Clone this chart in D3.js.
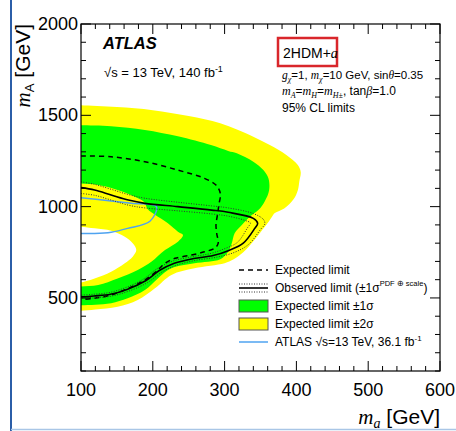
<!DOCTYPE html>
<html>
<head>
<meta charset="utf-8">
<script src="https://cdn.jsdelivr.net/npm/d3@7"></script>
<style>
  body { margin: 0; background: #fff; }
  text { font-family: "Liberation Sans", Arial, sans-serif; }
  .it { font-family: "Liberation Serif", "Times New Roman", serif; font-style: italic; }
</style>
</head>
<body>
<script>
// exclusion contours in (m_a, m_A) GeV
var yellowOuter = [[90,1556],[100,1555],[150,1545],[200,1528],[250,1496],[294,1456],[340,1383],[363,1337],[386,1283],[402,1228],[406,1190],[404,1136],[402,1090],[396,1040],[383,990],[370,965],[366,945],[360,910],[350,860],[340,810],[326,750],[312,710],[300,690],[258,662],[226,626],[203,553],[179,489],[151,452],[120,437],[100,430],[90,428]];
var greenOuter = [[90,1445],[100,1445],[142,1440],[189,1420],[235,1385],[281,1337],[305,1305],[317,1292],[340,1246],[354,1200],[361,1155],[362,1090],[356,1030],[347,981],[335,945],[324,899],[314,854],[310,799],[305,753],[294,712],[258,690],[226,662],[207,607],[189,543],[165,498],[142,471],[120,463],[100,460],[90,459]];
var yellowInner = [[90,1127],[100,1126],[124,1118],[151,1091],[175,1054],[188,1025],[193,985],[203,955],[221,909],[235,863],[242,845],[235,808],[217,762],[198,698],[179,653],[151,607],[124,571],[100,563],[90,562]];
var whiteHole = [[90,892],[100,890],[119,881],[142,868],[161,835],[172,799],[177,762],[172,726],[161,690],[142,644],[119,607],[100,585],[90,582]];

var expected = [[100,1277],[142,1273],[189,1246],[235,1200],[272,1155],[288,1118],[294,1073],[292,1009],[290,954],[288,900],[289,854],[291,799],[286,772],[272,753],[254,735],[231,717],[217,690],[207,653],[189,598],[166,553],[142,516],[119,498],[100,492]];
var observed = [[100,1104],[119,1091],[142,1064],[166,1036],[189,1018],[235,1000],[282,981],[305,969],[340,936],[346,909],[342,881],[326,800],[306,760],[284,732],[257,716],[230,690],[209,650],[190,594],[165,548],[141,520],[118,511],[100,506]];
var observedUp = [[100,1136],[119,1122],[142,1095],[166,1066],[189,1046],[235,1024],[282,1004],[305,993],[340,962],[354,930],[356,905],[350,875],[334,795],[314,750],[290,724],[260,706],[232,678],[212,640],[193,585],[167,538],[142,510],[118,500],[100,497]];
var observedDown = [[100,1072],[119,1062],[142,1036],[166,1008],[189,993],[235,977],[282,960],[305,948],[328,925],[336,910],[332,885],[318,805],[299,768],[279,742],[255,726],[228,702],[206,660],[187,603],[163,558],[140,530],[117,520],[100,515]];
var atlas2017 = [[100,1048],[142,1031],[170,1018],[205,1000],[196,920],[165,881],[142,860],[119,853],[100,853]];

var xTicks = [100, 200, 300, 400, 500, 600];
var yTicks = [500, 1000, 1500, 2000];

var width = 456, height = 431;
var svg = d3.select('body').append('svg')
  .attr('width', width).attr('height', height);

// page border bits from the screenshot
svg.append('line').attr('x1', 11).attr('x2', 11).attr('y1', 0).attr('y2', height)
  .attr('stroke', '#2b5ea8').attr('stroke-width', 2);
svg.append('line').attr('x1', 11).attr('x2', width).attr('y1', 429.5).attr('y2', 429.5)
  .attr('stroke', '#a9c6e6').attr('stroke-width', 1.5);

var x = d3.scaleLinear().domain([100, 600]).range([81, 440]);
var y = d3.scaleLinear().domain([100, 2000]).range([371, 24]);

svg.append('clipPath').attr('id', 'plot')
  .append('rect').attr('x', 81).attr('y', 24).attr('width', 359).attr('height', 347);

var g = svg.append('g').attr('clip-path', 'url(#plot)');

var smooth = d3.line()
  .x(function(d) { return x(d[0]); })
  .y(function(d) { return y(d[1]); })
  .curve(d3.curveCatmullRom.alpha(0.5));

var fillShape = function(pts, col) {
  g.append('path').attr('d', smooth(pts) + 'Z').attr('fill', col).attr('stroke', 'none');
};
fillShape(yellowOuter, '#ffff00');
fillShape(greenOuter, '#00ff00');
fillShape(yellowInner, '#ffff00');
fillShape(whiteHole, '#ffffff');

var drawLine = function(pts, col, w, dash) {
  var p = g.append('path').attr('d', smooth(pts))
    .attr('fill', 'none').attr('stroke', col).attr('stroke-width', w);
  if (dash) p.attr('stroke-dasharray', dash);
  return p;
};
drawLine(atlas2017, '#4fa3f0', 1.5);
drawLine(expected, '#000', 1.5, '5,4');
drawLine(observedUp, '#333', 1, '1,1.5');
drawLine(observedDown, '#333', 1, '1,1.5');
drawLine(observed, '#000', 1.6);

// frame and ticks (inward on all sides)
svg.append('rect').attr('x', 81).attr('y', 24).attr('width', 359).attr('height', 347)
  .attr('fill', 'none').attr('stroke', '#000').attr('stroke-width', 1.2);

var ticks = svg.append('g').attr('stroke', '#000').attr('stroke-width', 1);
d3.range(100, 601, 20).forEach(function(v) {
  var len = v % 100 === 0 ? 10 : 5;
  ticks.append('line').attr('x1', x(v)).attr('x2', x(v)).attr('y1', 371).attr('y2', 371 - len);
  ticks.append('line').attr('x1', x(v)).attr('x2', x(v)).attr('y1', 24).attr('y2', 24 + len);
});
d3.range(100, 2001, 100).forEach(function(v) {
  var len = v % 500 === 0 ? 10 : 5;
  ticks.append('line').attr('x1', 81).attr('x2', 81 + len).attr('y1', y(v)).attr('y2', y(v));
  ticks.append('line').attr('x1', 440).attr('x2', 440 - len).attr('y1', y(v)).attr('y2', y(v));
});

svg.selectAll('.xl').data(xTicks).enter().append('text')
  .attr('x', function(d) { return x(d); }).attr('y', 396)
  .attr('text-anchor', 'middle').attr('font-size', 18).text(function(d) { return d; });
svg.selectAll('.yl').data(yTicks).enter().append('text')
  .attr('x', 78).attr('y', function(d) { return y(d) + 6; })
  .attr('text-anchor', 'end').attr('font-size', 18).text(function(d) { return d; });

// axis titles
var xt = svg.append('text').attr('x', 440).attr('y', 424).attr('text-anchor', 'end').attr('font-size', 21);
xt.append('tspan').attr('class', 'it').text('m');
xt.append('tspan').attr('class', 'it').attr('font-size', 14).attr('dy', 4).text('a');
xt.append('tspan').attr('dy', -4).text(' [GeV]');

var yt = svg.append('text').attr('transform', 'translate(30,24) rotate(-90)')
  .attr('text-anchor', 'end').attr('font-size', 21);
yt.append('tspan').attr('class', 'it').text('m');
yt.append('tspan').attr('font-size', 13).attr('dy', 4).text('A');
yt.append('tspan').attr('dy', -4).text(' [GeV]');

// ATLAS label
svg.append('text').attr('x', 103).attr('y', 49).attr('font-size', 16.5)
  .attr('font-weight', 'bold').attr('font-style', 'italic').text('ATLAS');
var en = svg.append('text').attr('x', 104).attr('y', 77).attr('font-size', 13);
en.append('tspan').text('\u221As = 13 TeV, 140 fb');
en.append('tspan').attr('font-size', 9).attr('dy', -5).text('-1');

// model box
svg.append('rect').attr('x', 278).attr('y', 38).attr('width', 59).attr('height', 28)
  .attr('fill', 'none').attr('stroke', '#d9262b').attr('stroke-width', 2.5);
var mt = svg.append('text').attr('x', 283).attr('y', 58).attr('font-size', 14);
mt.append('tspan').text('2HDM+');
mt.append('tspan').attr('class', 'it').text('a');

var l1 = svg.append('text').attr('x', 282).attr('y', 79).attr('font-size', 11.5);
l1.append('tspan').attr('class', 'it').text('g');
l1.append('tspan').attr('class', 'it').attr('font-size', 8).attr('dy', 3).text('\u03c7');
l1.append('tspan').attr('dy', -3).text('=1, ');
l1.append('tspan').attr('class', 'it').text('m');
l1.append('tspan').attr('class', 'it').attr('font-size', 8).attr('dy', 3).text('\u03c7');
l1.append('tspan').attr('dy', -3).text('=10 GeV, sin');
l1.append('tspan').attr('class', 'it').text('\u03b8');
l1.append('tspan').text('=0.35');

var l2 = svg.append('text').attr('x', 282).attr('y', 95).attr('font-size', 12);
l2.append('tspan').attr('class', 'it').text('m');
l2.append('tspan').attr('class', 'it').attr('font-size', 8).attr('dy', 3).text('A');
l2.append('tspan').attr('dy', -3).text('=');
l2.append('tspan').attr('class', 'it').text('m');
l2.append('tspan').attr('class', 'it').attr('font-size', 8).attr('dy', 3).text('H');
l2.append('tspan').attr('dy', -3).text('=');
l2.append('tspan').attr('class', 'it').text('m');
l2.append('tspan').attr('class', 'it').attr('font-size', 8).attr('dy', 3).text('H\u00b1');
l2.append('tspan').attr('dy', -3).text(', tan');
l2.append('tspan').attr('class', 'it').text('\u03b2');
l2.append('tspan').text('=1.0');

svg.append('text').attr('x', 282).attr('y', 112).attr('font-size', 12).text('95% CL limits');

// legend
var lg = svg.append('g');
var lx0 = 239, lx1 = 268, tx = 275;
lg.append('line').attr('x1', lx0).attr('x2', lx1).attr('y1', 270).attr('y2', 270)
  .attr('stroke', '#000').attr('stroke-width', 1.5).attr('stroke-dasharray', '5,4');
[284, 292].forEach(function(yy) {
  lg.append('line').attr('x1', lx0).attr('x2', lx1).attr('y1', yy).attr('y2', yy)
    .attr('stroke', '#333').attr('stroke-width', 1).attr('stroke-dasharray', '1,1.5');
});
lg.append('line').attr('x1', lx0).attr('x2', lx1).attr('y1', 288).attr('y2', 288)
  .attr('stroke', '#000').attr('stroke-width', 1.6);
lg.append('rect').attr('x', lx0).attr('y', 300).attr('width', lx1 - lx0).attr('height', 12)
  .attr('fill', '#00ff00').attr('stroke', '#555').attr('stroke-width', 1);
lg.append('rect').attr('x', lx0).attr('y', 318).attr('width', lx1 - lx0).attr('height', 12)
  .attr('fill', '#ffff00').attr('stroke', '#555').attr('stroke-width', 1);
lg.append('line').attr('x1', lx0).attr('x2', lx1).attr('y1', 342).attr('y2', 342)
  .attr('stroke', '#4fa3f0').attr('stroke-width', 1.5);

var fs = 12;
lg.append('text').attr('x', tx).attr('y', 274).attr('font-size', fs).text('Expected limit');
var ob = lg.append('text').attr('x', tx).attr('y', 292).attr('font-size', fs);
ob.append('tspan').text('Observed limit (\u00b11\u03c3');
ob.append('tspan').attr('font-size', 7.5).attr('dy', -6).text('PDF \u2295 scale');
ob.append('tspan').attr('dy', 6).text(')');
lg.append('text').attr('x', tx).attr('y', 310).attr('font-size', fs).text('Expected limit \u00b11\u03c3');
lg.append('text').attr('x', tx).attr('y', 328).attr('font-size', fs).text('Expected limit \u00b12\u03c3');
var at = lg.append('text').attr('x', tx).attr('y', 346).attr('font-size', fs);
at.append('tspan').text('ATLAS \u221As=13 TeV, 36.1 fb');
at.append('tspan').attr('font-size', 8).attr('dy', -5).text('-1');
</script>
</body>
</html>
